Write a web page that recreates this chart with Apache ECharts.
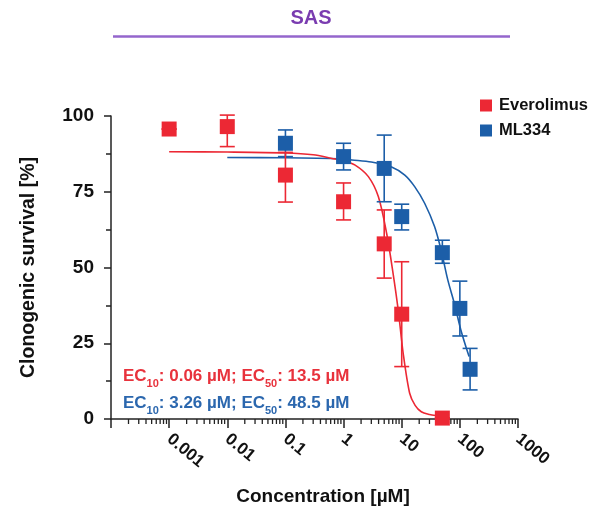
<!DOCTYPE html>
<html><head><meta charset="utf-8">
<script src="https://cdn.jsdelivr.net/npm/echarts@6/dist/echarts.min.js"></script>
<style>html,body{margin:0;padding:0;background:#fff}#c{width:605px;height:519px}</style>
</head><body><div id="c"></div>
<script>
// Everolimus (red)
const concEve = [0.001, 0.01, 0.1, 1, 5, 10, 50];
const meanEve = [95.7, 96.5, 80.5, 71.7, 57.8, 34.6, 0.3];
const lowEve  = [95.7, 89.9, 71.6, 65.7, 46.5, 17.3, 0.3];
const highEve = [95.7, 100.3, 88.0, 77.9, 69.0, 51.9, 0.3];
// ML334 (blue)
const concML = [0.1, 1, 5, 10, 50, 100, 150];
const meanML = [91.0, 86.6, 82.7, 66.8, 54.9, 36.5, 16.4];
const lowML  = [86.6, 82.2, 71.7, 62.4, 51.4, 27.4, 9.6];
const highML = [95.4, 91.0, 93.7, 70.9, 59.0, 45.5, 23.3];
// fitted curves
const fitEveX = [0.001, 0.01, 0.1, 0.3, 0.63, 1, 1.58, 2.67, 3.96, 5.5, 7.1, 8.7, 10.6, 13.7, 17, 21.7, 30, 40, 50];
const fitEveY = [88.2, 88.1, 87.8, 87.2, 86.0, 85.2, 83.8, 80.0, 73.4, 61.3, 48.1, 36.0, 21.7, 8.5, 4.5, 2.4, 1.5, 1.1, 0.9];
const fitMLX = [0.01, 0.1, 1, 1.39, 3, 6.7, 11.3, 16.7, 24.8, 36.7, 47.5, 62, 80.3, 104, 144];
const fitMLY = [86.3, 86.2, 85.8, 85.5, 84.8, 83.2, 80.5, 76.7, 71.2, 63.5, 55.8, 45.9, 38.2, 29.4, 20.6];
// axis ticks
const xTickLabels = ['0.001', '0.01', '0.1', '1', '10', '100', '1000'];
const yTickLabels = ['0', '25', '50', '75', '100'];
const names = ['Everolimus', 'ML334'];

const RED = '#ec2834', BLUE = '#1c5ea8';
const FONT = "'Liberation Sans', Arial, sans-serif";

const minorX = [];
for (let k = -4; k < 3; k++) for (let m = 2; m <= 9; m++) minorX.push(m * Math.pow(10, k));

function errSeries(name, color, xs, lo, hi) {
  return {
    type: 'custom', name: name + '_err', silent: true, z: 3,
    data: xs.map((x, i) => [x, lo[i], hi[i]]),
    renderItem: function (params, api) {
      const x = api.value(0);
      const a = api.coord([x, api.value(1)]);
      const b = api.coord([x, api.value(2)]);
      const w = 7.5;
      const st = { stroke: color, lineWidth: 1.6 };
      return { type: 'group', children: [
        { type: 'line', shape: { x1: a[0], y1: a[1], x2: b[0], y2: b[1] }, style: st },
        { type: 'line', shape: { x1: a[0] - w, y1: a[1], x2: a[0] + w, y2: a[1] }, style: st },
        { type: 'line', shape: { x1: b[0] - w, y1: b[1], x2: b[0] + w, y2: b[1] }, style: st }
      ]};
    }
  };
}

function ecText(parts, color) {
  return {
    text: '{a|EC}{s|10}{a|: ' + parts[0] + '; EC}{s|50}{a|: ' + parts[1] + '}',
    rich: { a: { fontFamily: FONT, fontWeight: 'bold', fontSize: 17, fill: color, verticalAlign: 'bottom' },
            s: { fontFamily: FONT, fontWeight: 'bold', fontSize: 11, fill: color, verticalAlign: 'bottom', padding: [0, 0, -4, 0] } }
  };
}

const chart = echarts.init(document.getElementById('c'));
chart.setOption({
  animation: false,
  grid: { left: 111, right: 87, top: 116, bottom: 100 },
  legend: {
    data: names, orient: 'vertical', left: 480, top: 97, padding: 0, itemWidth: 12, itemHeight: 12, itemGap: 8,
    icon: 'rect',
    textStyle: { fontFamily: FONT, fontWeight: 'bold', fontSize: 16.5, color: '#111', padding: [0, 0, 0, 2] }
  },
  xAxis: {
    type: 'log', logBase: 10, min: 0.0001, max: 1000,
    axisLine: { lineStyle: { color: '#222', width: 1.5 } },
    axisTick: { show: true, length: 9, lineStyle: { color: '#222', width: 1.5 } },
    splitLine: { show: false },
    axisLabel: {
      rotate: -40, margin: 18, fontFamily: FONT, fontWeight: 'bold', fontSize: 17, color: '#111',
      formatter: function (v) {
        const s = String(parseFloat(Number(v).toPrecision(6)));
        return xTickLabels.indexOf(s) >= 0 ? s : '';
      }
    }
  },
  yAxis: {
    type: 'value', min: 0, max: 100, interval: 25,
    name: 'Clonogenic survival [%]', nameLocation: 'middle', nameGap: 72,
    nameTextStyle: { fontFamily: FONT, fontWeight: 'bold', fontSize: 19.5, color: '#111' },
    axisLine: { show: true, lineStyle: { color: '#222', width: 1.5 } },
    axisTick: { show: true, length: 7, lineStyle: { color: '#222', width: 1.5 } },
    minorTick: { show: true, splitNumber: 2, length: 5, lineStyle: { color: '#222', width: 1.5 } },
    splitLine: { show: false },
    axisLabel: {
      margin: 17, fontFamily: FONT, fontWeight: 'bold', fontSize: 19, color: '#111',
      formatter: function (v) { const s = String(v); return yTickLabels.indexOf(s) >= 0 ? s : ''; }
    }
  },
  graphic: [
    { type: 'text', x: 311, y: 18, style: { text: 'SAS', font: "bold 20px 'Liberation Sans', Arial, sans-serif", fill: '#7a3cb0', textAlign: 'center', textVerticalAlign: 'middle' } },
    { type: 'line', shape: { x1: 113, y1: 36.5, x2: 510, y2: 36.5 }, style: { stroke: '#9466cc', lineWidth: 2.5 } },
    { type: 'text', x: 323, y: 497, style: { text: 'Concentration [µM]', font: "bold 19px 'Liberation Sans', Arial, sans-serif", fill: '#111', textAlign: 'center', textVerticalAlign: 'middle' } },
    { type: 'text', x: 123, y: 368, style: ecText(['0.06 µM', '13.5 µM'], '#e8323c') },
    { type: 'text', x: 123, y: 395, style: ecText(['3.26 µM', '48.5 µM'], '#2b67ae') }
  ],
  series: [
    {
      type: 'custom', name: 'minor', silent: true, data: minorX.map(v => [v, 0]),
      renderItem: function (params, api) {
        const p = api.coord([api.value(0), 0]);
        return { type: 'line', shape: { x1: p[0], y1: p[1], x2: p[0], y2: p[1] + 5 }, style: { stroke: '#222', lineWidth: 1.3 } };
      }
    },
    { type: 'line', name: 'ML334_fit', data: fitMLX.map((x, i) => [x, fitMLY[i]]), showSymbol: false, smooth: 0.3,
      lineStyle: { color: BLUE, width: 1.6 }, z: 2, silent: true },
    errSeries('ML334', BLUE, concML, lowML, highML),
    { type: 'scatter', name: 'ML334', data: concML.map((x, i) => [x, meanML[i]]), symbol: 'rect', symbolSize: 15,
      itemStyle: { color: BLUE, opacity: 1 }, z: 4 },
    { type: 'line', name: 'Everolimus_fit', data: fitEveX.map((x, i) => [x, fitEveY[i]]), showSymbol: false, smooth: 0.3,
      lineStyle: { color: RED, width: 1.6 }, z: 2, silent: true },
    errSeries('Everolimus', RED, concEve, lowEve, highEve),
    { type: 'scatter', name: 'Everolimus', data: concEve.map((x, i) => [x, meanEve[i]]), symbol: 'rect', symbolSize: 15,
      itemStyle: { color: RED, opacity: 1 }, z: 4 }
  ]
});
</script></body></html>
